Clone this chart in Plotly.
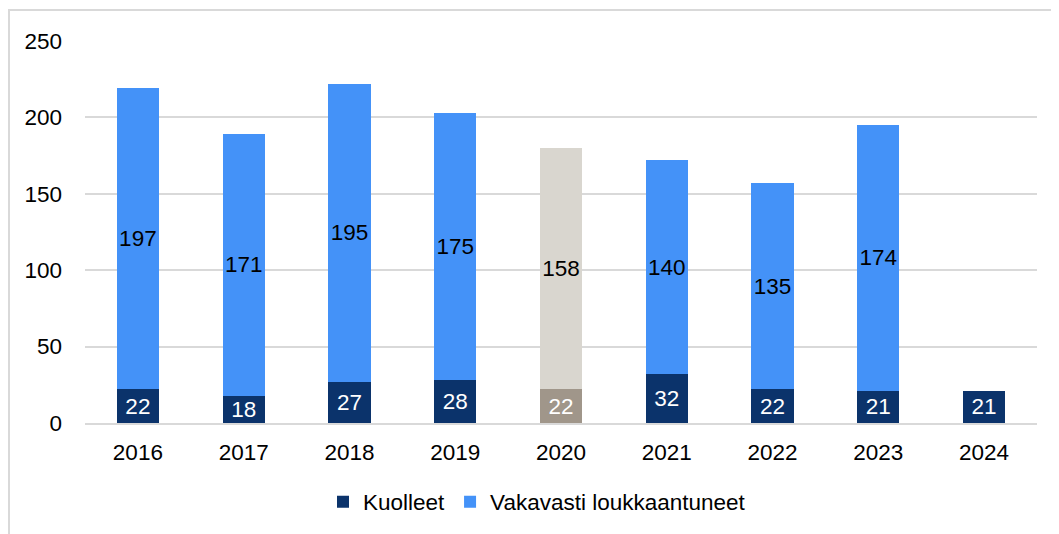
import plotly.graph_objects as go

years = ["2016", "2017", "2018", "2019", "2020", "2021", "2022", "2023", "2024"]
kuolleet = [22, 18, 27, 28, 22, 32, 22, 21, 21]
vakavasti = [197, 171, 195, 175, 158, 140, 135, 174, None]

navy = "#0B336B"
blue = "#4492F8"
gray_dark = "#A0968A"
gray_light = "#D9D6CF"

k_colors = [gray_dark if y == "2020" else navy for y in years]
v_colors = [gray_light if y == "2020" else blue for y in years]

font = "Liberation Sans, Arial, sans-serif"
FS = 22.5

fig = go.Figure()
fig.add_trace(go.Bar(
    x=years, y=kuolleet, name="Kuolleet",
    marker=dict(color=k_colors, line=dict(width=0)),
    text=kuolleet, texttemplate="%{text}", textposition="inside",
    insidetextanchor="middle", textangle=0, constraintext="none",
    textfont=dict(color="white", size=FS, family=font),
))
fig.add_trace(go.Bar(
    x=years, y=vakavasti, name="Vakavasti loukkaantuneet",
    marker=dict(color=v_colors, line=dict(width=0)),
    text=vakavasti, texttemplate="%{text}", textposition="inside",
    insidetextanchor="middle", textangle=0, constraintext="none",
    textfont=dict(color="black", size=FS, family=font),
))

# page body has an 8px margin; compensate so the figure lands where the reference is
OFF = 8
W, H = 1059 - OFF, 534 - OFF
ml, mr, mt, mb = 85 - OFF, 22, 41 - OFF, 111
pw, ph = W - ml - mr, H - mt - mb

def px_x(p):
    return (p - OFF - ml) / pw

def px_y(p):
    return (H - mb - (p - OFF)) / ph

fig.update_layout(
    width=W, height=H,
    barmode="stack", bargap=0.6,
    margin=dict(l=ml, r=mr, t=mt, b=mb, autoexpand=False),
    plot_bgcolor="white", paper_bgcolor="white",
    font=dict(family=font, size=FS, color="black"),
    showlegend=True,
    legend=dict(orientation="h", x=0.5 - 24 / pw, xanchor="center", y=px_y(502), yanchor="middle",
                font=dict(size=FS), traceorder="normal", itemwidth=30),
    xaxis=dict(showgrid=False, showline=True, linecolor="#D9D9D9", linewidth=2,
               ticks="", tickfont=dict(size=FS), ticklabelstandoff=8),
    yaxis=dict(range=[0, 250], dtick=50, showgrid=True, gridcolor="#D9D9D9", gridwidth=2,
               zeroline=False, ticks="", tickfont=dict(size=FS), ticklabelstandoff=22),
    shapes=[dict(type="rect", xref="paper", yref="paper",
                 x0=px_x(9), x1=px_x(1070), y0=px_y(560), y1=px_y(10),
                 line=dict(color="#D9D9D9", width=2), fillcolor="rgba(0,0,0,0)", layer="below")],
)

fig.write_html("out.html")
